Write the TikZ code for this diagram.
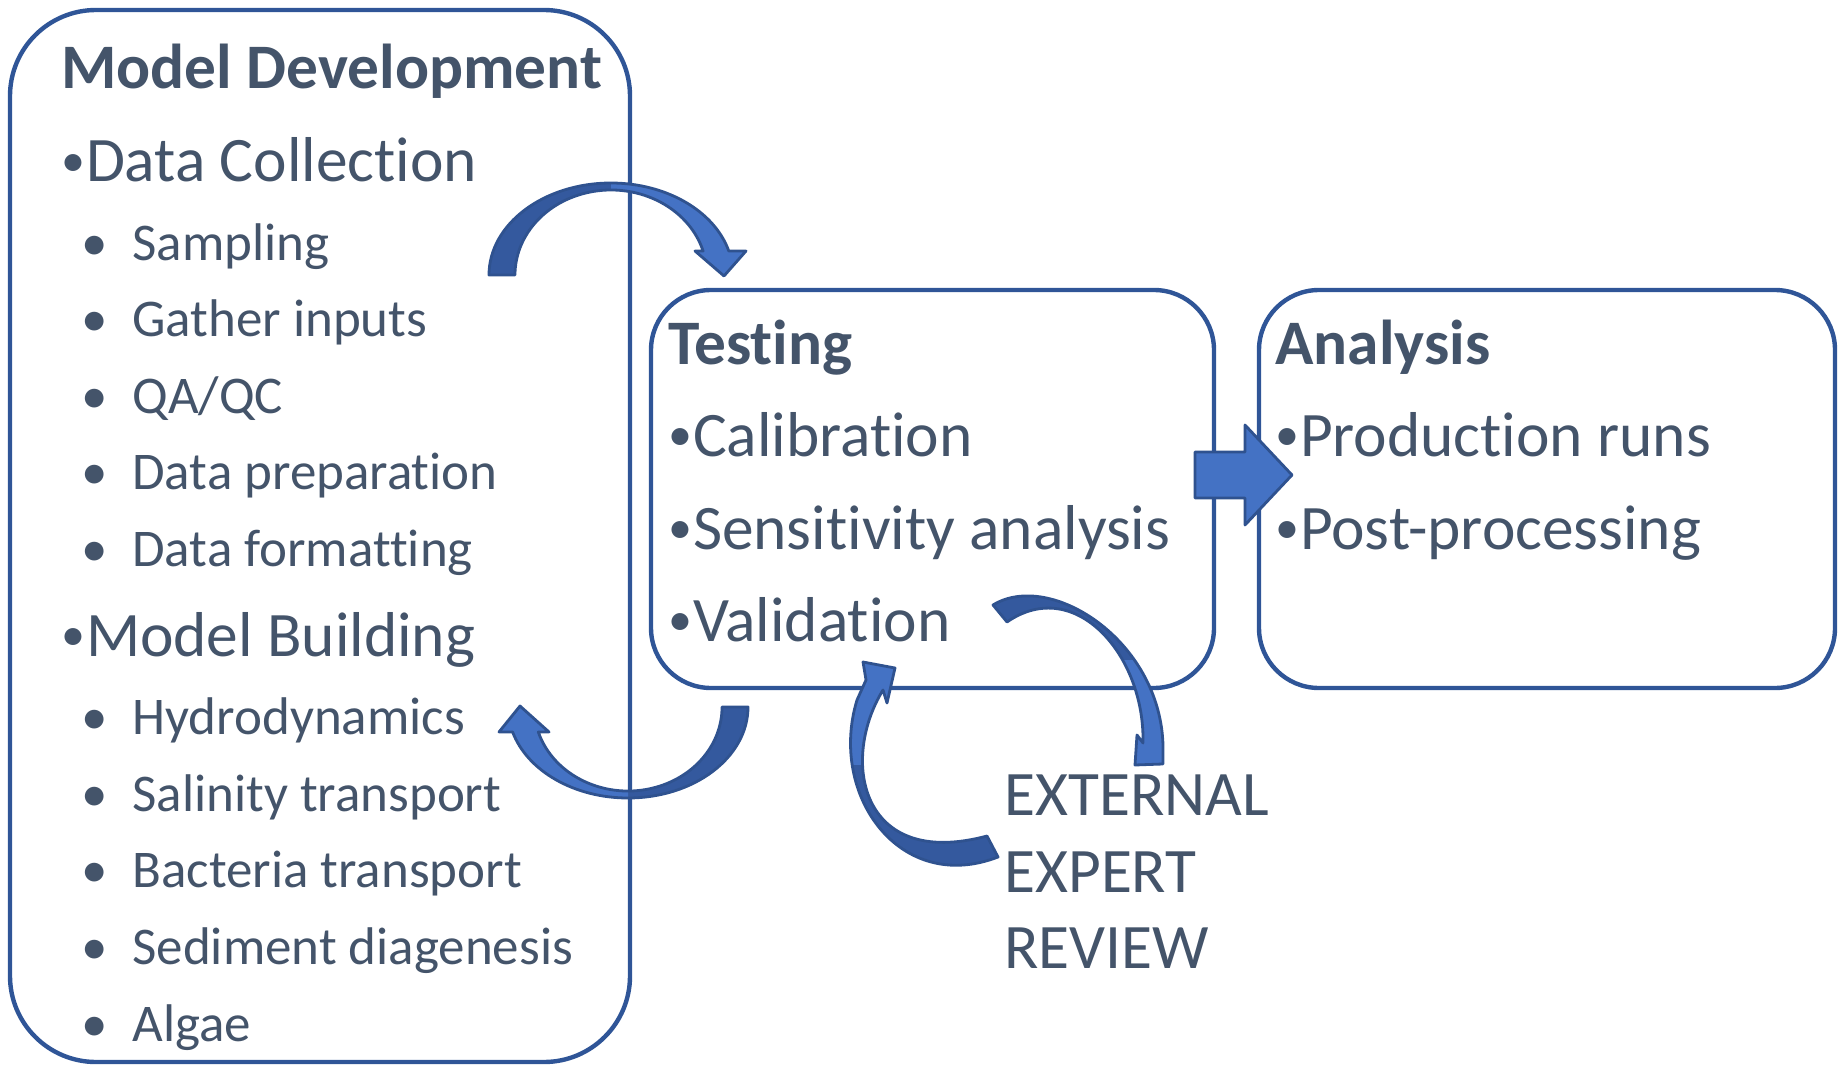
\documentclass[tikz,border=0pt]{standalone}
\usepackage{fontspec}
\setmainfont{Carlito}[Ligatures=NoCommon]
\usepackage{xcolor}
\usetikzlibrary{positioning}

\definecolor{boxline}{RGB}{47,85,151}
\definecolor{txt}{RGB}{68,84,106}
\definecolor{arrdark}{RGB}{52,89,158}
\definecolor{arrlight}{RGB}{68,114,196}
\definecolor{arredge}{RGB}{47,82,143}

% bullets: a smaller one set before the large items, a spaced one for the sub items
\newcommand{\bigdot}{\makebox[12.3pt][l]{\raisebox{2.6pt}{\fontsize{24}{24}\selectfont•}}}
\newcommand{\smalldot}{\makebox[25.5pt][l]{•}}

\begin{document}
\begin{tikzpicture}[
  x=0.5pt, y=-0.5pt,
  stage/.style={draw=boxline, line width=2.2pt, rounded corners=30pt, inner sep=0pt},
  head/.style={anchor=base west, inner sep=0pt, text=txt, font=\fontsize{31.7}{38}\selectfont\bfseries},
  item/.style={anchor=base west, inner sep=0pt, text=txt, font=\fontsize{31.7}{38}\selectfont},
  sub/.style={anchor=base west, inner sep=0pt, text=txt, font=\fontsize{26.5}{32}\selectfont},
  band/.style={draw=arredge, line width=1.4pt, line join=round}
]
\useasboundingbox (0,0) rectangle (1843,1065);

% stage boxes
\node[stage, rounded corners=43pt, minimum width=310pt, minimum height=526pt] (dev) at (320,536) {};
\node[stage, minimum width=281.5pt, minimum height=199pt] (test) at (932.5,489) {};
\node[stage, minimum width=288pt, minimum height=199pt] (anal) at (1547,489) {};

% model development
\node[head] (devtitle) at (61,89) {Model Development};
\node[item] (collect) at (61,182) {\bigdot Data Collection};
\node[sub] (s1) at (81,260) {\smalldot Sampling};
\node[sub] (s2) at (81,336) {\smalldot Gather inputs};
\node[sub] (s3) at (81,413) {\smalldot QA/QC};
\node[sub] (s4) at (81,489) {\smalldot Data preparation};
\node[sub] (s5) at (81,566) {\smalldot Data formatting};
\node[item] (build) at (61,656) {\bigdot Model Building};
\node[sub] (b1) at (81,734) {\smalldot Hydrodynamics};
\node[sub] (b2) at (81,811) {\smalldot Salinity transport};
\node[sub] (b3) at (81,887) {\smalldot Bacteria transport};
\node[sub] (b4) at (81,964) {\smalldot Sediment diagenesis};
\node[sub] (b5) at (81,1041) {\smalldot Algae};

% testing
\node[head] (testtitle) at (668,364) {Testing};
\node[item] (calib) at (668,456) {\bigdot Calibration};
\node[item] (sens) at (668,549) {\bigdot Sensitivity analysis};
\node[item] (valid) at (668,641) {\bigdot Validation};

% analysis
\node[head] (analtitle) at (1275,364) {Analysis};
\node[item] (prod) at (1275,456) {\bigdot Production runs};
\node[item] (post) at (1275,549) {\bigdot Post-processing};

% review
\node[item] (rev1) at (1004,815) {EXTERNAL};
\node[item] (rev2) at (1004,892) {EXPERT};
\node[item] (rev3) at (1004,968) {REVIEW};

% development -> testing (curved down)
\fill[arrdark] (489,275) arc[start angle=180, end angle=344.9, x radius=122, y radius=92]
  -- (746,251) -- (724,276) -- (695,251) -- (703.1,251)
  arc[start angle=343.6, end angle=180, x radius=96, y radius=85] -- cycle;
\fill[arrlight] (611,183) arc[start angle=270, end angle=344.9, x radius=122, y radius=92]
  -- (746,251) -- (724,276) -- (695,251) -- (703.1,251)
  arc[start angle=343.6, end angle=270, x radius=96, y radius=85] -- cycle;
\draw[band] (489,275) arc[start angle=180, end angle=344.9, x radius=122, y radius=92]
  -- (746,251) -- (724,276) -- (695,251) -- (703.1,251)
  arc[start angle=343.6, end angle=180, x radius=96, y radius=85] -- cycle;

% testing -> model building (curved up)
\fill[arrdark] (748,707) arc[start angle=0, end angle=164.05, x radius=120, y radius=91]
  -- (499,732) -- (520,706) -- (549,732) -- (538.3,732)
  arc[start angle=162.7, end angle=0, x radius=94, y radius=84] -- cycle;
\fill[arrlight] (628,798) arc[start angle=90, end angle=164.05, x radius=120, y radius=91]
  -- (499,732) -- (520,706) -- (549,732) -- (538.3,732)
  arc[start angle=162.7, end angle=90, x radius=94, y radius=84] -- cycle;
\draw[band] (748,707) arc[start angle=0, end angle=164.05, x radius=120, y radius=91]
  -- (499,732) -- (520,706) -- (549,732) -- (538.3,732)
  arc[start angle=162.7, end angle=0, x radius=94, y radius=84] -- cycle;

% validation -> review
\begin{scope}
  \clip (993,605) .. controls (1050,570) and (1160,640) .. (1163,745)
    -- (1163,764) -- (1135,765) -- (1137,735) -- (1143,743)
    .. controls (1145,655) and (1075,575) .. (1007,622) -- cycle;
  \fill[arrdark] (980,570) rectangle (1180,780);
  \fill[arrlight] (1110,660) rectangle (1180,780);
\end{scope}
\draw[band] (993,605) .. controls (1050,570) and (1160,640) .. (1163,745)
  -- (1163,764) -- (1135,765) -- (1137,735) -- (1143,743)
  .. controls (1145,655) and (1075,575) .. (1007,622) -- cycle;

% review -> validation
\begin{scope}
  \clip (987,836) -- (998,857) .. controls (900,895) and (828,795) .. (857,700)
    -- (866,680) -- (863,662) -- (895,668) -- (887,703) -- (883,690)
    .. controls (840,760) and (860,870) .. (987,836) -- cycle;
  \fill[arrdark] (820,640) rectangle (1010,880);
  \fill[arrlight] (820,640) rectangle (910,765);
\end{scope}
\draw[band] (987,836) -- (998,857) .. controls (900,895) and (828,795) .. (857,700)
  -- (866,680) -- (863,662) -- (895,668) -- (887,703) -- (883,690)
  .. controls (840,760) and (860,870) .. (987,836) -- cycle;

% testing -> analysis
\draw[band, fill=arrlight] (1195,452) -- (1245,452) -- (1245,425) -- (1292,475)
  -- (1245,525) -- (1245,498) -- (1195,498) -- cycle;
\end{tikzpicture}
\end{document}
